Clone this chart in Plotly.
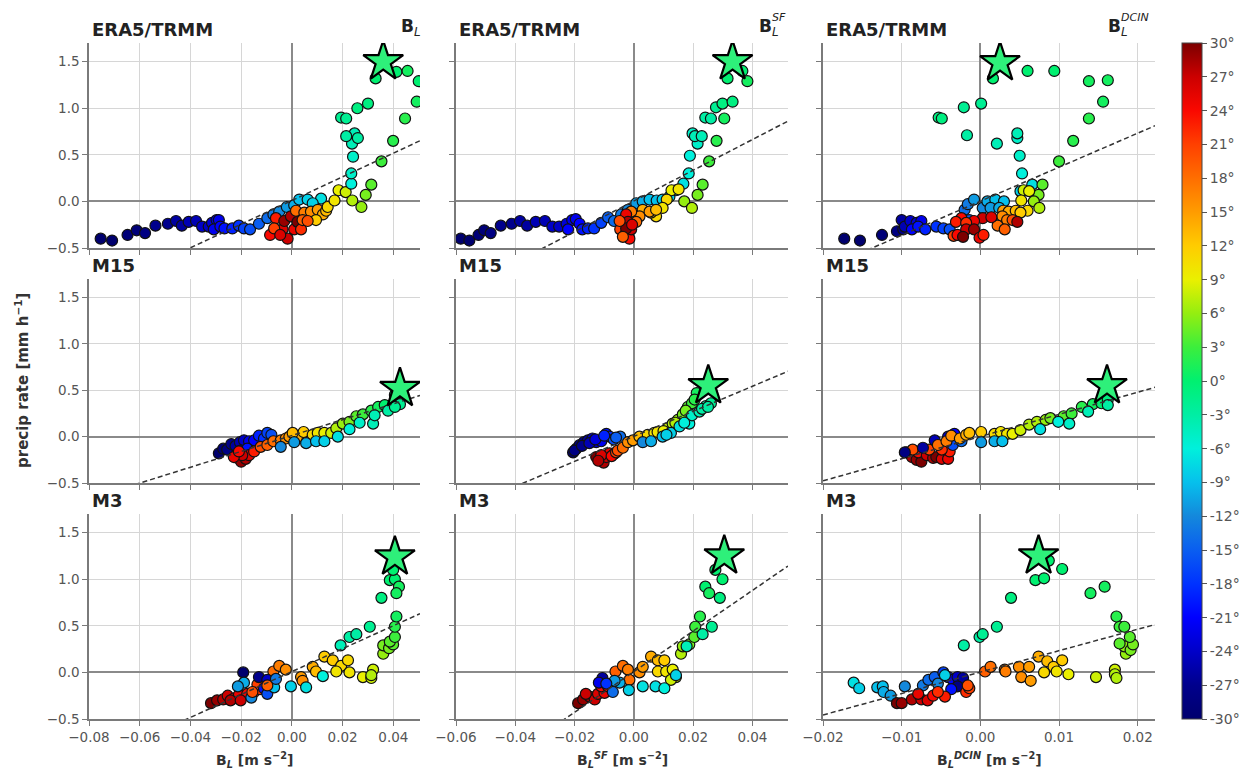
import plotly.graph_objects as go

# ---------------- DATA ----------------
# panel naming: row (1 ERA5/TRMM, 2 M15, 3 M3) x column (1 B_L, 2 B_L^SF, 3 B_L^DCIN)
x_11 = [-0.0754,-0.0709,-0.0648,-0.0612,-0.0579,-0.0538,-0.0489,-0.0457,-0.0434,-0.0407,-0.0378,-0.0354,-0.0328,-0.0315,-0.0297,
        -0.0288,-0.0308,-0.0282,-0.0266,-0.0235,-0.0209,-0.0189,-0.0165,-0.0130,-0.0097,-0.0073,-0.0050,-0.0020,0.0009,0.0029,
        0.0062,0.0115,0.0082,
        -0.0086,-0.0063,-0.0037,-0.0017,-0.0030,-0.0004,0.0009,0.0022,0.0036,-0.0070,-0.0046,
        0.0016,0.0049,0.0075,0.0102,0.0122,0.0135,0.0042,0.0095,0.0062,
        0.0141,0.0168,0.0184,0.0212,0.0238,0.0274,0.0291,0.0313,0.0353,
        0.0234,0.0234,0.0241,0.0237,0.0247,0.0260,0.0214,0.0194,0.0214,
        0.0258,0.0300,0.0330,0.0412,0.0456,0.0399,0.0446,0.0492,0.0500]
y_11 = [-0.40,-0.42,-0.36,-0.31,-0.34,-0.26,-0.24,-0.21,-0.26,-0.22,-0.21,-0.27,-0.27,-0.23,-0.20,
        -0.20,-0.30,-0.27,-0.29,-0.29,-0.26,-0.29,-0.30,-0.24,-0.18,-0.14,-0.11,-0.06,-0.04,0.02,
        0.02,0.03,-0.02,
        -0.36,-0.18,-0.30,-0.40,-0.21,-0.16,-0.30,-0.22,-0.30,-0.29,-0.36,
        -0.10,-0.12,-0.11,-0.09,-0.14,-0.10,-0.20,-0.20,-0.21,
        -0.06,0.01,0.12,0.10,0.01,-0.06,0.07,0.18,0.43,
        0.19,0.30,0.48,0.62,0.73,0.68,0.70,0.90,0.89,
        1.00,1.05,1.32,1.39,1.40,0.65,0.89,1.07,1.29]
lat_11 = [-30,-30,-29,-29,-28,-27,-27,-26,-26,-25,-25,-24,-24,-23,-23,
          -22,-22,-21,-20,-19,-18,-17,-16,-15,-14,-13,-12,-11,-10,-9,
          -8,-7,-8,
          24,23,26,27,29,28,25,30,22,21,26,
          18,17,16,15,14,13,19,12,20,
          11,10,9,8,7,6,5,4,3,
          -6,-5,-5,-4,-4,-3,-3,-2,-2,
          -1,-1,0,0,1,2,2,1,0]

x_12 = [-0.0584,-0.0555,-0.0524,-0.0505,-0.0483,-0.0449,-0.0412,-0.0384,-0.0360,-0.0331,-0.0300,-0.0275,-0.0252,-0.0227,-0.0208,
        -0.0196,-0.0222,-0.0183,-0.0174,-0.0155,-0.0134,-0.0110,-0.0087,-0.0067,-0.0043,-0.0020,0.0008,0.0030,0.0053,0.0077,
        0.0097,0.0120,0.0142,0.0167,0.0185,0.0189,0.0215,0.0198,0.0206,0.0229,0.0241,0.0260,0.0277,0.0299,0.0333,
        0.0305,0.0279,0.0254,0.0232,0.0215,0.0170,0.0196,0.0316,0.0366,0.0383,
        0.0127,0.0151,0.0111,0.0097,0.0075,0.0058,
        0.0030,0.0053,0.0019,-0.0009,0.0008,0.0075,
        -0.0037,-0.0026,-0.0020,-0.0046,-0.0031,-0.0015,-0.0009,-0.0026,-0.0006,-0.0048,-0.0037]
y_12 = [-0.40,-0.42,-0.36,-0.31,-0.34,-0.26,-0.24,-0.21,-0.26,-0.22,-0.21,-0.27,-0.27,-0.24,-0.20,
        -0.19,-0.30,-0.24,-0.30,-0.29,-0.29,-0.23,-0.17,-0.21,-0.14,-0.09,-0.02,0.00,0.02,0.01,
        0.02,0.05,0.12,0.19,0.30,0.49,0.62,0.73,0.70,0.70,0.90,0.89,1.01,1.05,1.07,
        0.89,0.65,0.43,0.18,0.07,0.00,-0.07,1.32,1.40,1.29,
        0.12,0.13,0.02,-0.07,-0.16,-0.12,
        -0.09,-0.11,-0.16,-0.11,-0.22,-0.09,
        -0.20,-0.14,-0.22,-0.30,-0.36,-0.40,-0.30,-0.29,-0.25,-0.21,-0.38]
lat_12 = [-30,-30,-29,-29,-28,-27,-27,-26,-26,-25,-25,-24,-24,-23,-22,
          -22,-21,-21,-20,-19,-18,-17,-15,-14,-13,-12,-11,-10,-9,-9,
          -8,-8,-7,-7,-6,-6,-5,-5,-4,-4,-3,-3,-2,-1,-1,
          1,2,3,4,5,6,7,0,0,1,
          9,10,11,10,11,12,
          14,15,16,17,18,13,
          22,25,28,21,23,24,27,30,26,20,19]

x_13 = [-0.0173,-0.0153,-0.0125,-0.0106,-0.0098,-0.0100,-0.0096,-0.0089,-0.0081,-0.0075,-0.0087,-0.0079,-0.0070,-0.0056,-0.0047,-0.0039,
        -0.0020,-0.0016,-0.0014,-0.0008,0.0003,0.0009,0.0019,0.0013,0.0030,0.0024,
        0.0051,0.0066,0.0053,0.0050,0.0047,0.0047,0.0021,-0.0017,-0.0021,0.0001,-0.0053,-0.0049,0.0016,0.0060,0.0094,0.0138,0.0162,0.0156,0.0138,0.0118,0.0100,
        0.0079,0.0074,0.0068,0.0075,0.0055,0.0062,0.0052,0.0060,
        0.0029,0.0036,0.0045,0.0051,0.0028,0.0034,0.0022,0.0031,0.0041,
        0.0047,0.0003,0.0014,-0.0008,-0.0024,-0.0031,-0.0018,-0.0034,-0.0029,-0.0018,-0.0008,-0.0001,0.0004,-0.0022]
y_13 = [-0.40,-0.42,-0.36,-0.32,-0.30,-0.20,-0.27,-0.21,-0.23,-0.21,-0.30,-0.27,-0.30,-0.27,-0.29,-0.30,
        -0.09,-0.03,-0.20,0.02,-0.07,0.00,0.02,-0.07,0.00,-0.07,
        0.11,0.18,0.30,0.49,0.68,0.73,0.62,0.71,1.01,1.05,0.90,0.89,1.32,1.40,1.40,1.29,1.30,1.07,0.89,0.65,0.43,
        0.18,0.07,0.00,-0.07,0.12,0.11,0.01,-0.10,
        -0.10,-0.11,-0.10,-0.12,-0.16,-0.20,-0.26,-0.30,-0.20,
        -0.22,-0.18,-0.17,-0.21,-0.18,-0.22,-0.23,-0.37,-0.36,-0.30,-0.30,-0.39,-0.36,-0.38]
lat_13 = [-30,-30,-29,-28,-27,-26,-25,-24,-23,-22,-21,-20,-19,-18,-17,-16,
          -14,-13,-15,-11,-12,-10,-9,-11,-9,-10,
          -8,-7,-6,-5,-5,-4,-4,-3,-2,-2,-1,-1,0,0,0,1,1,1,2,2,3,
          4,5,6,7,8,9,10,11,
          15,14,13,12,16,17,18,19,20,
          28,27,26,25,24,23,22,21,24,27,29,25,23,30]

x_21 = [-0.0288,-0.0271,-0.0255,-0.0239,-0.0222,-0.0205,-0.0189,-0.0169,-0.0149,-0.0130,-0.0110,-0.0097,-0.0081,-0.0202,-0.0176,
        -0.0215,-0.0200,-0.0182,-0.0169,-0.0196,-0.0229,-0.0209,-0.0149,
        -0.0123,-0.0097,-0.0073,-0.0044,-0.0024,-0.0010,0.0020,
        0.0003,0.0046,0.0082,0.0102,0.0128,0.0155,0.0175,0.0201,0.0227,0.0254,0.0280,0.0313,0.0340,0.0366,0.0406,
        -0.0044,0.0009,0.0056,0.0095,0.0128,0.0181,0.0227,0.0267,0.0320,0.0326,0.0379,0.0426,0.0406]
y_21 = [-0.18,-0.13,-0.14,-0.08,-0.10,-0.06,-0.04,-0.05,-0.04,0.01,-0.02,0.04,0.02,-0.15,-0.13,
        -0.23,-0.27,-0.24,-0.20,-0.20,-0.22,-0.16,-0.16,
        -0.11,-0.09,-0.05,-0.04,-0.02,0.00,-0.01,
        0.04,0.05,0.02,0.04,0.04,0.04,0.09,0.14,0.16,0.22,0.24,0.28,0.32,0.34,0.45,
        -0.11,-0.06,-0.07,-0.05,-0.05,0.00,0.08,0.15,0.14,0.23,0.28,0.35,0.32]
lat_21 = [-30,-29,-28,-27,-26,-25,-24,-22,-21,-19,-18,-17,-16,-23,-20,
          30,29,28,26,27,25,24,23,
          20,19,18,17,16,15,14,
          13,12,11,10,9,8,7,6,5,4,3,2,1,0,-1,
          -12,-11,-10,-9,-8,-7,-6,-5,-4,-4,-3,-2,-2]

x_22 = [-0.0205,-0.0194,-0.0183,-0.0169,-0.0155,-0.0140,-0.0127,-0.0110,-0.0093,-0.0082,-0.0068,-0.0046,
        -0.0200,-0.0175,-0.0150,-0.0130,-0.0100,-0.0060,
        -0.0127,-0.0113,-0.0102,-0.0093,-0.0082,-0.0068,-0.0110,-0.0120,-0.0075,-0.0060,
        -0.0054,-0.0037,-0.0020,-0.0003,0.0019,
        0.0047,0.0069,0.0092,0.0114,0.0131,0.0148,0.0165,0.0182,0.0196,0.0212,0.0080,0.0100,0.0140,0.0175,0.0205,
        0.0030,0.0058,0.0097,0.0125,0.0154,0.0187,0.0196,0.0221,0.0243,0.0260,0.0110,0.0170,0.0230,0.0250]
y_22 = [-0.17,-0.13,-0.09,-0.06,-0.04,-0.02,-0.06,-0.05,0.03,0.00,-0.03,0.00,
        -0.15,-0.10,-0.07,-0.03,0.01,-0.01,
        -0.22,-0.24,-0.28,-0.22,-0.18,-0.19,-0.20,-0.26,-0.21,-0.17,
        -0.15,-0.12,-0.06,-0.04,0.00,
        0.02,0.04,0.04,0.09,0.14,0.18,0.24,0.32,0.36,0.47,0.05,0.06,0.15,0.28,0.40,
        -0.06,-0.05,0.00,0.04,0.11,0.14,0.23,0.27,0.33,0.36,0.02,0.15,0.30,0.32]
lat_22 = [-30,-29,-28,-27,-26,-25,-24,-22,-20,-18,-16,-14,
          -28,-27,-25,-23,-19,-15,
          30,29,28,27,25,23,26,28,24,21,
          20,18,16,15,13,
          11,10,9,8,7,6,5,4,3,1,10,9,7,5,2,
          -12,-10,-9,-8,-7,-6,-5,-4,-3,-2,-8,-6,-3,-3]

x_23 = [-0.0094,-0.0087,-0.0081,-0.0075,-0.0079,-0.0068,-0.0060,-0.0056,-0.0049,-0.0041,-0.0039,-0.0049,-0.0065,-0.0086,
        -0.0096,-0.0073,-0.0058,-0.0041,-0.0033,-0.0029,-0.0035,-0.0024,
        -0.0054,-0.0043,-0.0037,-0.0026,-0.0018,-0.0014,
        0.0001,0.0018,0.0026,0.0034,0.0041,0.0051,0.0062,0.0072,0.0083,0.0089,0.0106,0.0116,0.0129,0.0143,0.0154,0.0162,
        0.0001,0.0018,0.0028,0.0076,0.0099,0.0113,0.0137,0.0162]
y_23 = [-0.17,-0.22,-0.25,-0.27,-0.17,-0.20,-0.23,-0.22,-0.24,-0.24,-0.16,-0.14,-0.14,-0.14,
        -0.17,-0.12,-0.04,0.00,0.03,-0.04,-0.09,-0.05,
        -0.09,-0.05,0.01,-0.02,0.02,0.04,
        0.05,0.03,0.05,0.03,0.03,0.07,0.13,0.16,0.18,0.20,0.22,0.25,0.32,0.35,0.36,0.40,
        -0.06,-0.05,-0.05,0.08,0.16,0.14,0.27,0.34]
lat_23 = [25,28,29,30,24,27,28,30,26,25,23,22,21,20,
          -28,-26,-25,-23,-21,-18,-16,-14,
          18,17,16,15,14,13,
          12,11,10,10,9,8,7,7,6,5,4,3,2,1,0,-1,
          -11,-10,-9,-7,-6,-5,-4,-3]

x_31 = [-0.0319,-0.0295,-0.0271,-0.0253,-0.0229,-0.0209,-0.0242,-0.0176,-0.0149,-0.0126,-0.0136,-0.0202,
        -0.0073,-0.0050,-0.0024,0.0036,0.0042,0.0082,0.0095,0.0128,0.0161,0.0194,0.0221,0.0175,
        0.0227,0.0280,0.0313,0.0320,0.0313,0.0360,0.0360,0.0383,0.0399,0.0386,0.0406,0.0406,0.0412,
        0.0192,0.0227,0.0254,0.0307,0.0353,0.0386,0.0406,0.0422,0.0412,0.0399,
        -0.0192,-0.0130,-0.0097,-0.0110,-0.0083,-0.0097,
        -0.0189,-0.0213,-0.0160,-0.0070,-0.0004,0.0056,0.0122,-0.0063,
        -0.0156,-0.0097]
y_31 = [-0.33,-0.30,-0.29,-0.25,-0.28,-0.24,-0.30,-0.23,-0.21,-0.18,-0.13,-0.30,
        0.01,0.07,0.03,-0.05,-0.09,0.06,0.01,0.17,0.13,0.07,0.13,0.01,
        0.00,-0.05,-0.06,0.03,-0.03,0.20,0.29,0.26,0.30,0.33,0.38,0.49,0.60,
        0.29,0.38,0.41,0.49,0.80,0.99,1.00,0.92,0.85,1.10,
        0.00,-0.05,-0.08,-0.17,-0.15,-0.23,
        -0.11,-0.15,-0.27,-0.16,-0.15,-0.16,-0.04,-0.07,
        -0.21,-0.14]
lat_31 = [30,29,28,27,26,25,28,24,23,22,21,27,
          18,17,16,15,16,14,13,12,12,11,11,10,
          10,9,8,8,7,6,5,5,4,4,3,2,1,
          -4,-3,-3,-2,-1,0,0,1,1,0,
          -30,-27,-24,-20,-18,-16,
          -10,-11,-12,-9,-8,-7,-6,-13,
          20,19]

x_32 = [-0.0188,-0.0171,-0.0149,-0.0132,-0.0162,-0.0121,-0.0099,-0.0110,-0.0087,
        -0.0062,-0.0037,-0.0020,-0.0015,0.0019,0.0030,0.0058,0.0081,0.0103,0.0081,
        0.0109,0.0131,0.0142,0.0125,0.0159,0.0165,0.0187,0.0204,0.0207,0.0223,
        0.0232,0.0263,0.0178,0.0241,0.0254,0.0290,0.0299,0.0275,
        0.0030,0.0073,0.0103,-0.0017,-0.0048,-0.0065,0.0142,
        -0.0106,-0.0118,-0.0093,-0.0071]
y_32 = [-0.33,-0.29,-0.26,-0.29,-0.23,-0.23,-0.22,-0.15,-0.15,
        0.01,0.07,0.03,-0.08,0.00,0.06,0.17,0.13,0.13,0.01,
        0.01,0.03,-0.05,-0.08,0.20,0.28,0.30,0.38,0.49,0.60,
        0.41,0.49,0.28,0.92,0.85,0.80,1.00,1.10,
        -0.15,-0.15,-0.17,-0.19,-0.11,-0.09,-0.03,
        -0.06,-0.11,-0.12,-0.21]
lat_32 = [30,29,28,27,27,26,25,24,23,
          19,18,17,18,16,15,14,13,12,11,
          10,9,8,8,7,6,5,4,3,2,
          -3,-2,-4,0,1,-1,0,0,
          -7,-7,-6,-8,-10,-11,-8,
          -26,-22,-18,-14]

x_33 = [-0.0161,-0.0154,-0.0131,-0.0124,-0.0123,-0.0114,-0.0096,-0.0073,
        -0.0066,-0.0058,-0.0047,-0.0041,-0.0035,-0.0029,-0.0022,-0.0029,-0.0037,-0.0045,-0.0054,
        -0.0106,-0.0100,-0.0087,-0.0075,-0.0067,-0.0079,-0.0060,-0.0045,-0.0054,-0.0018,-0.0014,-0.0016,
        0.0006,0.0013,0.0031,0.0032,0.0049,0.0062,0.0052,0.0064,0.0074,0.0085,0.0093,0.0104,0.0081,
        0.0097,0.0112,0.0147,0.0171,0.0171,0.0173,
        0.0185,0.0183,0.0191,0.0194,0.0190,0.0177,0.0177,0.0183,0.0173,
        -0.0021,-0.0001,0.0003,0.0021,0.0039,0.0070,0.0081,0.0104,0.0087,0.0140,0.0158]
y_33 = [-0.11,-0.17,-0.16,-0.15,-0.21,-0.25,-0.15,-0.14,
        -0.08,-0.05,0.00,-0.05,-0.08,-0.05,-0.06,-0.15,-0.18,-0.03,-0.12,
        -0.33,-0.33,-0.29,-0.29,-0.30,-0.23,-0.25,-0.26,-0.21,-0.21,-0.17,-0.14,
        0.01,0.06,0.03,0.01,0.06,0.06,-0.05,-0.09,0.17,0.12,0.06,0.13,0.00,
        0.01,-0.02,-0.05,0.03,-0.02,-0.06,
        0.20,0.28,0.24,0.30,0.38,0.31,0.49,0.49,0.60,
        0.29,0.38,0.41,0.49,0.80,0.99,1.01,1.11,1.20,0.85,0.92]
lat_33 = [-7,-8,-9,-9,-10,-11,-12,-13,
          -14,-15,-17,-19,-21,-24,-26,-28,-20,-8,-12,
          30,29,28,27,26,25,24,23,22,22,21,20,
          19,18,17,17,16,15,16,15,14,13,12,12,11,
          10,9,8,8,7,7,
          6,6,5,5,4,4,3,3,2,
          -3,-3,-2,-2,-1,0,0,0,0,1,1]

# composite (star) point per panel, order 11,12,13,21,22,23,31,32,33
star_x = [0.0360, 0.0333, 0.0025, 0.0426, 0.0251, 0.0161, 0.0406, 0.0305, 0.0074]
star_y = [1.50, 1.50, 1.49, 0.52, 0.55, 0.55, 1.24, 1.25, 1.25]
# regression lines y = intercept + slope * x
fit_slope = [12.7, 16.5, 36.5, 8.55, 13.5, 23.9, 12.3, 21.8, 23.0]
fit_intercept = [0.010, 0.004, 0.002, 0.012, 0.003, 0.001, 0.009, 0.008, 0.003]

row_titles = ["ERA5/TRMM", "M15", "M3"]
lat_ticks = list(range(-30, 31, 3))
y_ticks = [-0.5, 0.0, 0.5, 1.0, 1.5]

panels = [(x_11, y_11, lat_11), (x_12, y_12, lat_12), (x_13, y_13, lat_13),
          (x_21, y_21, lat_21), (x_22, y_22, lat_22), (x_23, y_23, lat_23),
          (x_31, y_31, lat_31), (x_32, y_32, lat_32), (x_33, y_33, lat_33)]

# ---------------- STYLE / LAYOUT ----------------
W, H = 1256, 774
col_px = [(89, 420), (456, 788), (823, 1155)]
row_px = [(43, 248), (279, 483), (514, 719)]
x_ranges = [[-0.08, 0.0505], [-0.06, 0.052], [-0.02, 0.0222]]
x_dticks = [0.02, 0.02, 0.01]
y_range = [-0.5, 1.7]

colorscale = [[0.0, '#00006e'], [0.05, '#00008c'], [0.1, '#0000c8'], [0.15, '#0000ff'],
              [0.2, '#0032ff'], [0.25, '#0a5ef0'], [0.3, '#1488dc'], [0.35, '#06c0ec'],
              [0.4, '#00f0dc'], [0.45, '#00eea4'], [0.5, '#00f070'], [0.55, '#3cee3c'],
              [0.6, '#94ee10'], [0.65, '#eaf000'], [0.7, '#ffcc00'], [0.75, '#ff9c00'],
              [0.8, '#ff6e00'], [0.85, '#ff4000'], [0.9, '#fa0800'], [0.95, '#cc0000'],
              [1.0, '#7c0000']]

FONT = "DejaVu Sans"
tick_font = dict(family=FONT, size=13.5, color='#555555')

fig = go.Figure()
layout_axes = {}
annotations = []

for i, (px, py, pc) in enumerate(panels):
    r, c = divmod(i, 3)
    k = i + 1
    xa = 'x' if k == 1 else f'x{k}'
    ya = 'y' if k == 1 else f'y{k}'
    # points
    fig.add_trace(go.Scatter(
        x=px, y=py, mode='markers', xaxis=xa, yaxis=ya, hoverinfo='skip',
        marker=dict(size=11, color=pc, colorscale=colorscale, cmin=-30, cmax=30,
                    line=dict(color='#111111', width=1.2),
                    showscale=(k == 1),
                    colorbar=dict(x=1182 / W, xanchor='left', xref='container',
                                  y=1 - 381 / H, yanchor='middle', yref='container',
                                  xpad=0, ypad=0,
                                  len=676, lenmode='pixels', thickness=20,
                                  outlinecolor='#444444', outlinewidth=1,
                                  ticks='outside', ticklen=5, tickcolor='#555555',
                                  tickvals=lat_ticks, ticktext=[f"{v}°" for v in lat_ticks],
                                  tickfont=dict(family=FONT, size=14, color='#555555')))))
    # regression line across the x range
    xr = x_ranges[c]
    fx = [xr[0], xr[1]]
    fy = [fit_intercept[i] + fit_slope[i] * v for v in fx]
    fig.add_trace(go.Scatter(x=fx, y=fy, mode='lines', xaxis=xa, yaxis=ya, hoverinfo='skip',
                             line=dict(color='#333333', width=1.5, dash='5px,3px')))
    # star
    fig.add_trace(go.Scatter(x=[star_x[i]], y=[star_y[i]], mode='markers', xaxis=xa, yaxis=ya,
                             hoverinfo='skip',
                             marker=dict(symbol='star', size=30, color='#2ef07a',
                                         line=dict(color='#000000', width=2.2))))

    x0, x1 = col_px[c]
    y0, y1 = row_px[r]
    xname = 'xaxis' if k == 1 else f'xaxis{k}'
    yname = 'yaxis' if k == 1 else f'yaxis{k}'
    layout_axes[xname] = dict(
        domain=[x0 / W, x1 / W], anchor=ya, range=xr, tick0=0, dtick=x_dticks[c],
        tickformat='.2f', showticklabels=(r == 2), tickfont=tick_font,
        showgrid=True, gridcolor='#d6d6d6', gridwidth=1.4,
        zeroline=True, zerolinecolor='#8a8a8a', zerolinewidth=1.6,
        showline=True, linecolor='#7a7a7a', linewidth=1.5,
        ticks='outside', ticklen=5, tickcolor='#7a7a7a', tickwidth=1.3)
    layout_axes[yname] = dict(
        domain=[1 - y1 / H, 1 - y0 / H], anchor=xa, range=y_range,
        tickvals=y_ticks, tickformat='.1f', showticklabels=(c == 0), tickfont=tick_font,
        showgrid=True, gridcolor='#d6d6d6', gridwidth=1.4,
        zeroline=True, zerolinecolor='#8a8a8a', zerolinewidth=1.6,
        showline=True, linecolor='#7a7a7a', linewidth=1.5,
        ticks='outside', ticklen=5, tickcolor='#7a7a7a', tickwidth=1.3)

    # panel title (row name) left-aligned above each axes
    annotations.append(dict(xref='paper', yref='paper', x=(x0 + 1) / W, y=1 - (y0 - 14) / H,
                            xanchor='left', yanchor='middle', showarrow=False,
                            text=f"<b>{row_titles[r]}</b>",
                            font=dict(family=FONT, size=18, color='#222222')))

# column labels (top row, right side)
base_x = [399, 757, 1106]
sup_text = [None, "SF", "DCIN"]
for c in range(3):
    annotations.append(dict(xref='paper', yref='paper', x=base_x[c] / W, y=1 - 28 / H,
                            xanchor='left', yanchor='middle', showarrow=False,
                            text="<b>B</b><sub><i>L</i></sub>",
                            font=dict(family=FONT, size=17, color='#222222')))
    if sup_text[c]:
        annotations.append(dict(xref='paper', yref='paper', x=(base_x[c] + 13) / W, y=1 - 17 / H,
                                xanchor='left', yanchor='middle', showarrow=False,
                                text=f"<i>{sup_text[c]}</i>",
                                font=dict(family=FONT, size=11, color='#222222')))

# x-axis titles (bottom row)
xt = ["<b>B<sub><i>L</i></sub> [m s<sup>−2</sup>]</b>",
      "<b>B<sub><i>L</i></sub><sup><i>SF</i></sup> [m s<sup>−2</sup>]</b>",
      "<b>B<sub><i>L</i></sub><sup><i>DCIN</i></sup> [m s<sup>−2</sup>]</b>"]
for c in range(3):
    x0, x1 = col_px[c]
    annotations.append(dict(xref='paper', yref='paper', x=(x0 + x1) / 2 / W, y=1 - 760 / H,
                            xanchor='center', yanchor='middle', showarrow=False, text=xt[c],
                            font=dict(family=FONT, size=14, color='#333333')))

# y-axis title
annotations.append(dict(xref='paper', yref='paper', x=22 / W, y=1 - 381 / H,
                        xanchor='center', yanchor='middle', showarrow=False, textangle=-90,
                        text="<b>precip rate [mm h<sup>−1</sup>]</b>",
                        font=dict(family=FONT, size=15, color='#333333')))

fig.update_layout(width=W, height=H, margin=dict(l=0, r=0, t=0, b=0, autoexpand=False),
                  paper_bgcolor='white', plot_bgcolor='white', showlegend=False,
                  annotations=annotations, **layout_axes)

fig.write_html("out.html")
